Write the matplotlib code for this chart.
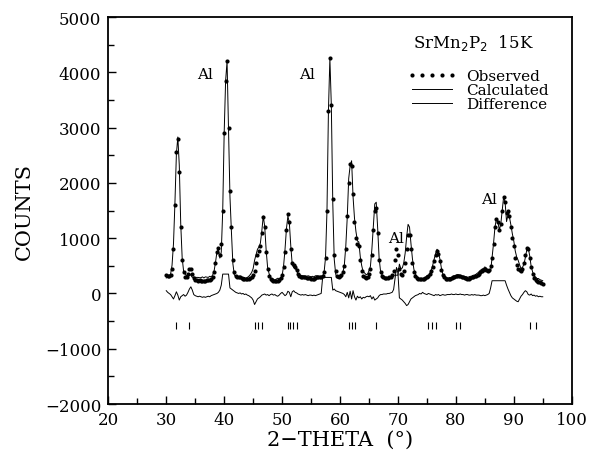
import numpy as np
import matplotlib
matplotlib.use('Agg')
import matplotlib.pyplot as plt

# 2-theta grid: start and step of the scan
theta_start = 30.0
theta_step = 0.25

# observed counts, one row per degree (x.00, x.25, x.50, x.75)
obs = [
    330, 320, 310, 330,      # 30
    450, 800, 1600, 2550,    # 31
    2800, 2200, 1200, 600,   # 32
    380, 300, 290, 350,      # 33
    440, 450, 350, 280,      # 34
    250, 240, 230, 235,      # 35
    225, 230, 220, 230,      # 36
    235, 240, 250, 260,      # 37
    300, 380, 550, 750,      # 38
    820, 700, 900, 1500,     # 39
    2900, 3850, 4200, 3000,  # 40
    1850, 1200, 600, 380,    # 41
    320, 300, 290, 290,      # 42
    280, 270, 270, 260,      # 43
    260, 270, 280, 300,      # 44
    330, 400, 550, 700,      # 45
    760, 850, 1100, 1380,    # 46
    1200, 750, 450, 320,     # 47
    270, 240, 230, 220,      # 48
    220, 225, 240, 280,      # 49
    340, 480, 750, 1150,     # 50
    1440, 1300, 800, 550,    # 51
    520, 480, 420, 350,      # 52
    320, 300, 300, 290,      # 53
    290, 280, 280, 280,      # 54
    270, 270, 270, 280,      # 55
    290, 290, 300, 300,      # 56
    310, 380, 650, 1500,     # 57
    3300, 4250, 3400, 1700,  # 58
    700, 400, 320, 300,      # 59
    310, 330, 380, 500,      # 60
    800, 1400, 2000, 2350,   # 61
    2300, 1800, 1300, 1000,  # 62
    900, 850, 600, 400,      # 63
    320, 290, 280, 300,      # 64
    350, 450, 700, 1150,     # 65
    1500, 1550, 1100, 600,   # 66
    380, 320, 290, 280,      # 67
    280, 280, 290, 300,      # 68
    330, 400, 600, 800,      # 69
    700, 450, 350, 340,      # 70
    400, 550, 800, 1050,     # 71
    1050, 800, 550, 380,     # 72
    310, 280, 270, 260,      # 73
    260, 270, 270, 280,      # 74
    300, 320, 350, 400,      # 75
    480, 580, 700, 770,      # 76
    720, 580, 430, 330,      # 77
    290, 270, 260, 260,      # 78
    270, 280, 290, 300,      # 79
    310, 320, 320, 310,      # 80
    300, 290, 280, 280,      # 81
    270, 270, 280, 290,      # 82
    300, 310, 320, 340,      # 83
    360, 380, 400, 420,      # 84
    440, 430, 400, 420,      # 85
    500, 650, 900, 1200,     # 86
    1350, 1300, 1150, 1250,  # 87
    1500, 1750, 1650, 1450,  # 88
    1500, 1400, 1200, 1000,  # 89
    850, 650, 520, 450,      # 90
    420, 400, 450, 550,      # 91
    700, 820, 800, 650,      # 92
    480, 350, 280, 250,      # 93
    230, 210, 200, 180,      # 94
    170,                     # 95
]

# difference curve (obs - calc), same grid
diff = [
    50, 20, 0, -20,          # 30
    -60, -100, -40, 30,      # 31
    -30, -120, -60, -40,     # 32
    -20, -50, -30, 20,       # 33
    80, 120, 60, -20,        # 34
    -40, -50, -60, -50,      # 35
    -60, -70, -60, -70,      # 36
    -60, -50, -60, -40,      # 37
    -30, -20, -10, 0,        # 38
    20, 60, 150, 350,        # 39
    350, 350, 350, 350,      # 40
    100, 80, 60, 40,         # 41
    20, 10, 0, 10,           # 42
    -10, 0, -20, -10,        # 43
    -30, -40, -60, -80,      # 44
    -120, -200, -150, -100,  # 45
    -80, -60, -30, -20,      # 46
    -10, -30, -20, -40,      # 47
    -20, -10, -30, -20,      # 48
    -40, -50, -30, 0,        # 49
    20, -10, -40, -20,       # 50
    40, 20, -60, 30,         # 51
    50, 20, 10, -10,         # 52
    -20, -30, -20, -30,      # 53
    -20, -30, -40, -30,      # 54
    -30, -40, -30, -40,      # 55
    -30, -20, -10, 0,        # 56
    290, 290, 290, 290,      # 57
    290, 290, 290, 60,       # 58
    80, 50, 40, 30,          # 59
    20, 10, 0, -20,          # 60
    -60, 20, -80, 40,        # 61
    -100, 50, -60, -120,     # 62
    -50, -80, -60, -100,     # 63
    -70, -80, -60, -50,      # 64
    -60, -40, -100, -60,     # 65
    -120, -100, -80, -40,    # 66
    -20, -20, -10, -10,      # 67
    -10, 0, 0, 10,           # 68
    20, 70, 270, 470,        # 69
    370, -80, -100, -120,    # 70
    -150, -180, -220, -200,  # 71
    -150, -100, -80, -60,    # 72
    -40, -30, -20, 0,        # 73
    -10, 20, 0, -10,         # 74
    -20, 0, -10, -20,        # 75
    -30, -40, -20, -30,      # 76
    -20, -40, -30, -20,      # 77
    -30, -30, -20, -20,      # 78
    -20, -10, -20, -20,      # 79
    -10, -20, -20, -10,      # 80
    -20, -20, -30, -20,      # 81
    -20, -30, -30, -20,      # 82
    -30, -20, -30, -30,      # 83
    -30, -40, -40, -30,      # 84
    -40, -30, -20, 0,        # 85
    100, 230, 230, 230,      # 86
    230, 230, 230, 230,      # 87
    230, 230, 230, 150,      # 88
    80, 20, -40, -80,        # 89
    -100, -120, -140, -150,  # 90
    -100, -50, -20, 20,      # 91
    50, 30, -20, -30,        # 92
    -10, -40, -30, -50,      # 93
    -40, -60, -50, -60,      # 94
    -60,                     # 95
]

# Al regions left out of the fit (calc follows the data there)
excluded = [(39.75, 40.75), (57.0, 58.5), (86.25, 88.5)]

# reflection markers
refl = [31.7, 34.0, 45.4, 45.8, 46.5, 51.0, 51.4, 51.8, 52.6,
        61.6, 62.0, 62.6, 66.2, 75.2, 75.8, 76.6, 80.1, 80.8, 92.8, 93.9]
refl_level = -580

al_labels = [(38.0, 3970), (55.7, 3970), (71.0, 1010), (87.1, 1700)]


def main():
    plt.rcParams['font.family'] = ['DejaVu Serif']
    plt.rcParams['axes.unicode_minus'] = True

    theta = theta_start + theta_step * np.arange(len(obs))
    o = np.array(obs, dtype=float)
    d = np.array(diff, dtype=float)
    calc = o - d
    for a, b in excluded:
        m = (theta >= a - 1e-6) & (theta <= b + 1e-6)
        calc[m] = o[m]

    fig = plt.figure(figsize=(5.9, 4.56), dpi=100)
    ax = fig.add_axes([0.1836, 0.1118, 0.7854, 0.8487])

    ax.plot(theta, o, 'o', ms=3.0, color='k', mew=0, label='Observed')
    ax.plot(theta, calc, '-', lw=0.7, color='k', label='Calculated')
    ax.plot(theta, d, '-', lw=0.7, color='k', label='Difference')
    ax.vlines(refl, refl_level - 60, refl_level + 60, color='k', lw=0.8)

    for x, y in al_labels:
        ax.text(x, y, 'Al', ha='right', va='center', fontsize=11)

    ax.text(72.6, 4540, r'SrMn$_2$P$_2$  15K', ha='left', va='center', fontsize=12)

    ax.legend(loc='upper left', bbox_to_anchor=(0.63, 0.885), frameon=False,
              numpoints=5, handlelength=3.2, handletextpad=0.6,
              labelspacing=0.0, fontsize=11, borderpad=0)

    ax.set_xlim(20, 100)
    ax.set_ylim(-2000, 5000)
    ax.set_xticks(np.arange(20, 101, 10))
    ax.set_xticks(np.arange(25, 100, 10), minor=True)
    ax.set_yticks(np.arange(-2000, 5001, 1000))
    ax.set_yticks(np.arange(-1500, 5000, 1000), minor=True)
    ax.tick_params(direction='in', length=6, width=1, labelsize=12, pad=5)
    ax.tick_params(which='minor', direction='in', length=4, width=1)
    for s in ax.spines.values():
        s.set_linewidth(1.3)

    ax.set_xlabel('2\u2212THETA  (\u00b0)', fontsize=15, labelpad=1)
    ax.set_ylabel('COUNTS', fontsize=15, labelpad=8)

    fig.savefig('out.png', dpi=100)


if __name__ == '__main__':
    main()
